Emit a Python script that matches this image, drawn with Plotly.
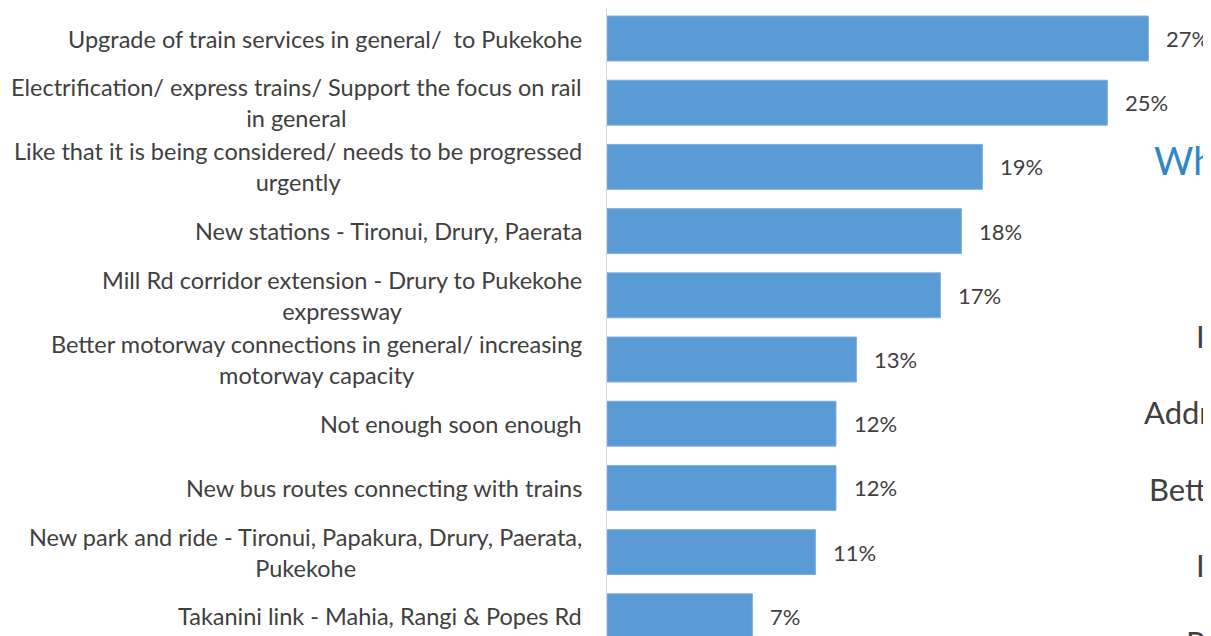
import plotly.graph_objects as go

# categories top to bottom, wrapped the way the source wraps them
categories = [
    "Upgrade of train services in general/  to Pukekohe",
    "Electrification/ express trains/ Support the focus on rail<br>in general",
    "Like that it is being considered/ needs to be progressed<br>urgently",
    "New stations - Tironui, Drury, Paerata",
    "Mill Rd corridor extension - Drury to Pukekohe<br>expressway",
    "Better motorway connections in general/ increasing<br>motorway capacity",
    "Not enough soon enough",
    "New bus routes connecting with trains",
    "New park and ride - Tironui, Papakura, Drury, Paerata,<br>Pukekohe",
    "Takanini link - Mahia, Rangi & Popes Rd",
]
# bar lengths (percent)
values = [27.07, 25.02, 18.77, 17.72, 16.67, 12.47, 11.45, 11.45, 10.42, 7.27]
# printed data labels
value_labels = ["27%", "25%", "19%", "18%", "17%", "13%", "12%", "12%", "11%", "7%"]

# fragments of the neighbouring slide text cut off at the right edge
side_texts = ["I", "Addr", "Bett", "I", "P"]
side_x = [1194, 1142, 1147, 1194, 1184]
side_y = [336, 412, 489, 565, 642]

BAR = "#5B9BD5"
TXT = "#404040"
FONT = "Lato"

# page body has an 8px margin, figure sized so the window shows 1211x636
OFF = 8
W, H = 1211 - OFF, 636 - OFF
L = 607 - OFF
plot_w = W - L
plot_h = H

fig = go.Figure()
fig.add_trace(go.Bar(
    x=values, y=list(range(len(categories))), orientation="h",
    marker=dict(color=BAR, line=dict(color="#7DAFE0", width=1)),
    hoverinfo="skip", showlegend=False,
))

ann = []
for i, (cat, v, lab) in enumerate(zip(categories, values, value_labels)):
    ann.append(dict(x=0, xref="paper", y=i, yref="y", text=cat, showarrow=False,
                    xanchor="right", yanchor="middle", align="center", xshift=-23,
                    font=dict(family=FONT, size=23.5, color=TXT)))
    ann.append(dict(x=v, xref="x", y=i, yref="y", text=lab, showarrow=False,
                    xanchor="left", yanchor="middle", xshift=16,
                    font=dict(family=FONT, size=22, color=TXT)))

ann.append(dict(x=(1152 - 607) / plot_w, xref="paper", y=(OFF + H - 160) / plot_h, yref="paper",
                text="Wh", showarrow=False, xanchor="left", yanchor="middle",
                font=dict(family=FONT, size=38, color="#2F86C8")))
for t, px, py in zip(side_texts, side_x, side_y):
    ann.append(dict(x=(px - 607) / plot_w, xref="paper", y=(OFF + H - py) / plot_h, yref="paper",
                    text=t, showarrow=False, xanchor="left", yanchor="middle",
                    font=dict(family=FONT, size=31, color=TXT)))

pitch = 64.2
top = -0.5 + 1.6 / pitch
fig.update_layout(
    width=W, height=H,
    margin=dict(l=L, r=0, t=0, b=0, pad=0),
    paper_bgcolor="white", plot_bgcolor="white",
    bargap=0.3,
    annotations=ann,
    xaxis=dict(range=[0, plot_w / 20.0], showgrid=False, zeroline=False,
               showticklabels=False, ticks="", showline=False),
    yaxis=dict(range=[top + plot_h / pitch, top], showgrid=False, zeroline=False,
               showticklabels=False, ticks="", showline=True,
               linecolor="#D9D9D9", linewidth=1),
)

fig.write_html("out.html")
